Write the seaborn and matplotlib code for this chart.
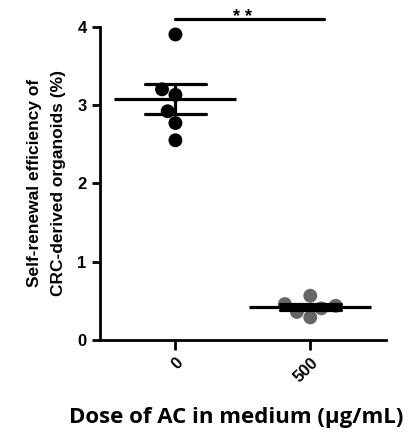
import numpy as np
import pandas as pd
import seaborn as sns
import matplotlib.pyplot as plt

# 그룹별 데이터
doses = ['0', '500']
ctrl_vals = [3.90, 3.20, 3.13, 2.92, 2.77, 2.55]
ac_vals = [0.46, 0.405, 0.566, 0.29, 0.36, 0.438]
dot_colors = ['black', '#666666']
yticks = [0, 1, 2, 3, 4]

df = pd.DataFrame({
    'dose': [doses[0]] * len(ctrl_vals) + [doses[1]] * len(ac_vals),
    'value': ctrl_vals + ac_vals,
})

sns.set_style('ticks')
plt.rcParams['font.family'] = ['Liberation Sans', 'DejaVu Sans']
plt.rcParams['font.weight'] = 'bold'
plt.rcParams['axes.labelcolor'] = 'black'
plt.rcParams['text.color'] = 'black'

fig = plt.figure(figsize=(4.18, 4.44), dpi=100)
ax = fig.add_axes([0.239, 0.234, 0.684, 0.706])

# 점 (swarm)
sns.swarmplot(data=df, x='dose', y='value', hue='dose', palette=dot_colors,
              size=10, legend=False, ax=ax, zorder=2)

# 평균 ± SEM
sns.pointplot(data=df, x='dose', y='value', errorbar='se', capsize=0.45,
              color='black', linestyle='none', marker='_', markersize=88,
              markeredgewidth=2.3, err_kws={'linewidth': 2.3}, ax=ax, zorder=3)

# 유의성 표시
ax.plot([0, 1.1], [4.1, 4.1], color='black', lw=2.3, clip_on=False)
ax.text(0.5, 4.12, '* *', ha='center', va='center', fontsize=13, fontweight='bold')

ax.set_xlim(-0.56, 1.56)
ax.set_ylim(0, 4)
ax.set_yticks(yticks)
ax.set_yticklabels([str(t) for t in yticks], fontsize=12, fontweight='bold')
ax.set_xticks([0, 1])
ax.set_xticklabels(doses, rotation=45, ha='right', rotation_mode='anchor',
                   fontsize=12, fontweight='bold')
ax.tick_params(axis='y', width=2, length=6, color='black', labelcolor='black')
ax.tick_params(axis='x', width=2, length=7, color='black', labelcolor='black')

sns.despine(ax=ax)
for s in ['left', 'bottom']:
    ax.spines[s].set_linewidth(2)
    ax.spines[s].set_color('black')

ax.set_ylabel('Self-renewal efficiency of\nCRC-derived organoids (%)',
              fontsize=12.5, fontweight='bold', labelpad=8, linespacing=1.75,
              color='black')
ax.set_xlabel('Dose of AC in medium (μg/mL)', fontsize=16, fontweight='bold',
              family=['Open Sans', 'DejaVu Sans'], color='black')
ax.xaxis.set_label_coords(0.477, -0.215)

plt.savefig('out.png', dpi=100)
